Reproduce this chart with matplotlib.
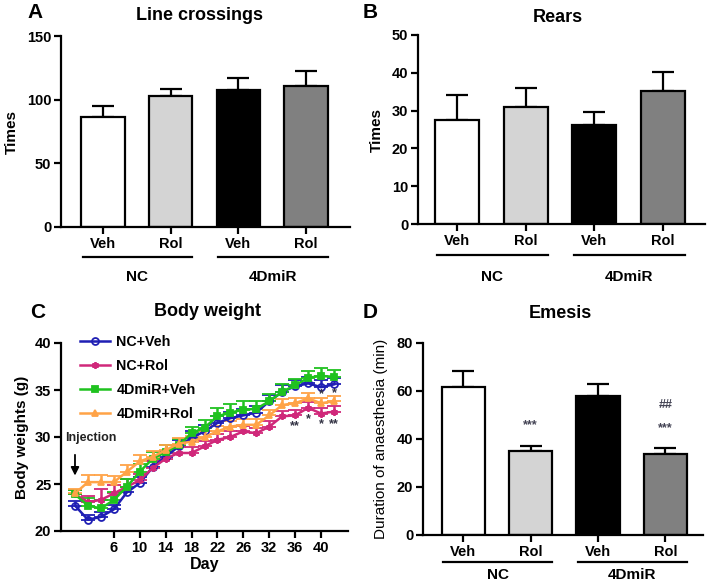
import matplotlib
matplotlib.use("Agg")
import matplotlib.pyplot as plt
from matplotlib.lines import Line2D
import numpy as np

plt.rcParams['font.family'] = ['Liberation Sans', 'DejaVu Sans']
plt.rcParams['font.weight'] = 'bold'
plt.rcParams['axes.linewidth'] = 1.6

# ---------------- data ----------------
bar_labels = ["Veh", "Rol", "Veh", "Rol"]
group_labels = ["NC", "4DmiR"]
bar_colors = ["#ffffff", "#d4d4d4", "#000000", "#808080"]

line_vals = [86.5, 102.5, 107.5, 110.7]
line_err = [8.5, 6.0, 9.2, 11.8]

rears_vals = [27.6, 31.0, 26.2, 35.3]
rears_err = [6.6, 5.0, 3.5, 5.0]

emesis_vals = [61.8, 35.2, 58.1, 33.7]
emesis_err = [6.6, 2.0, 4.7, 2.4]
emesis_marks = ["", "***", "", "***"]
emesis_marks2 = ["", "", "", "##"]

days = [0, 2, 4, 6, 8, 10, 12, 14, 16, 18, 20, 22, 24, 26, 29, 32, 34, 36, 38, 40, 42]
day_ticks = [6, 10, 14, 18, 22, 26, 32, 36, 40]

nc_veh = [22.7, 21.2, 21.5, 22.3, 24.1, 25.1, 26.8, 27.9, 29.0, 29.9, 30.6, 31.5, 32.0,
          32.3, 32.6, 33.8, 34.8, 35.4, 35.7, 35.3, 35.6]
nc_veh_err = [0.5, 0.5, 0.5, 0.5, 0.6, 0.6, 0.6, 0.6, 0.7, 0.7, 0.7, 0.7, 0.7,
              0.7, 0.7, 0.7, 0.7, 0.7, 0.7, 0.8, 0.7]
nc_rol = [23.9, 23.1, 23.3, 24.0, 24.7, 25.4, 26.7, 27.7, 28.3, 28.3, 29.0, 29.7, 30.0,
          30.6, 30.4, 31.1, 32.2, 32.3, 33.1, 32.5, 32.7]
nc_rol_err = [0.5, 0.6, 1.2, 0.9, 0.8, 0.7, 0.7, 0.6, 0.6, 0.6, 0.6, 0.6, 0.6,
              0.6, 0.6, 0.6, 0.6, 0.6, 0.6, 0.6, 0.6]
d4_veh = [23.9, 22.7, 22.4, 23.3, 24.7, 26.3, 27.7, 28.4, 29.1, 30.4, 31.0, 32.2, 32.6,
          32.9, 33.0, 33.8, 34.8, 35.5, 36.3, 36.5, 36.4]
d4_veh_err = [0.5, 0.8, 0.9, 0.8, 0.8, 0.8, 0.7, 0.7, 0.7, 0.7, 0.8, 0.9, 0.9,
              0.9, 0.8, 0.8, 0.8, 0.7, 0.7, 0.8, 0.7]
d4_rol = [24.0, 25.2, 25.2, 25.2, 26.3, 27.4, 27.9, 28.6, 29.3, 29.5, 30.0, 30.6, 31.1,
          31.3, 31.3, 32.3, 33.4, 33.6, 34.1, 33.6, 33.8]
d4_rol_err = [0.5, 0.8, 0.8, 0.7, 0.7, 0.7, 0.6, 0.6, 0.6, 0.6, 0.6, 0.6, 0.6,
              0.6, 0.6, 0.6, 0.6, 0.6, 0.6, 0.6, 0.6]
series_names = ["NC+Veh", "NC+Rol", "4DmiR+Veh", "4DmiR+Rol"]
series_vals = [nc_veh, nc_rol, d4_veh, d4_rol]
series_err = [nc_veh_err, nc_rol_err, d4_veh_err, d4_rol_err]
series_colors = ["#1f1fb4", "#d0287a", "#1fc21f", "#ffa347"]
series_markers = ["o", (6, 2, 0), "s", "^"]
series_mfc = ["none", "#d0287a", "#1fc21f", "#ffa347"]

# significance marks on body-weight plot
bw_marks_days = [36, 38, 40, 42]
bw_marks_text_lo = ["**", "*", "*", "**"]
bw_marks_y_lo = [31.2, 31.9, 31.4, 31.4]
bw_marks_text_hi = ["", "", "*", "*"]
bw_marks_y_hi = [0, 0, 34.6, 34.7]

W, H = 710, 582
fig = plt.figure(figsize=(W / 100, H / 100), dpi=100)


def rect(l, r, t, b):
    return [l / W, 1 - b / H, (r - l) / W, (b - t) / H]


axA = fig.add_axes(rect(61, 350, 36, 227))
axB = fig.add_axes(rect(418, 705, 35, 224))
axC = fig.add_axes(rect(61, 348, 343, 531))
axD = fig.add_axes(rect(423, 703, 343, 535))


def style(ax):
    for s in ["top", "right"]:
        ax.spines[s].set_visible(False)
    ax.tick_params(direction="out", length=5, width=1.6, labelsize=10.5, pad=2)
    for lab in ax.get_xticklabels() + ax.get_yticklabels():
        lab.set_fontweight("bold")


def bar_panel(ax, vals, errs, xlim, ylim, yticks, ylabel, title, letter, line_y, lab_y,
              letter_xy, title_xy):
    x = np.arange(len(vals))
    ax.bar(x, vals, width=0.64, color=bar_colors, edgecolor="black", linewidth=1.6, zorder=2)
    ax.errorbar(x, vals, yerr=[np.zeros(len(vals)), errs], fmt="none", ecolor="black",
                elinewidth=1.6, capsize=8, capthick=1.6, zorder=1)
    ax.set_xlim(*xlim)
    ax.set_ylim(*ylim)
    ax.set_yticks(yticks)
    ax.set_xticks(x)
    ax.set_xticklabels(bar_labels, fontsize=11.5)
    ax.set_ylabel(ylabel, fontsize=11, fontweight="bold", labelpad=6)
    style(ax)
    tr = ax.get_xaxis_transform()
    for gi, g in enumerate(group_labels):
        a, b = 2 * gi, 2 * gi + 1
        ax.plot([a - 0.3, b + 0.32], [line_y, line_y], color="black", lw=1.6,
                transform=tr, clip_on=False)
        ax.text((a + b) / 2 + 0.01, lab_y, g, transform=tr, ha="center", va="center",
                fontsize=11, fontweight="bold")
    fig.text(letter_xy[0] / W, 1 - letter_xy[1] / H, letter, fontsize=15,
             fontweight="bold", ha="center", va="center")
    fig.text(title_xy[0] / W, 1 - title_xy[1] / H, title, fontsize=13,
             fontweight="bold", ha="center", va="center")


bar_panel(axA, line_vals, line_err, (-0.62, 3.65), (0, 150), [0, 50, 100, 150], "Times",
          "Line crossings", "A", -0.157, -0.262, (35, 13), (200, 15))
bar_panel(axB, rears_vals, rears_err, (-0.57, 3.61), (0, 50), [0, 10, 20, 30, 40, 50], "Times",
          "Rears", "B", -0.164, -0.28, (370, 13), (558, 17))
bar_panel(axD, emesis_vals, emesis_err, (-0.60, 3.56), (0, 80), [0, 20, 40, 60, 80],
          "Duration of anaesthesia (min)", "Emesis", "D", -0.14, -0.21, (370, 313), (560, 313))
axD.yaxis.label.set_fontweight("normal")
axD.yaxis.label.set_fontsize(11)

for i, (m1, m2) in enumerate(zip(emesis_marks, emesis_marks2)):
    if m1:
        axD.text(i, emesis_vals[i] + emesis_err[i] + 8.5, m1, ha="center", va="center",
                 fontsize=9, color="#444455")
    if m2:
        axD.text(i, emesis_vals[i] + emesis_err[i] + 18, m2, ha="center", va="center",
                 fontsize=9, color="#444455")

# ---------------- Body weight ----------------
pos = np.arange(len(days))
handles = []
for name, v, e, c, mk, mfc in zip(series_names, series_vals, series_err, series_colors,
                                  series_markers, series_mfc):
    axC.errorbar(pos, v, yerr=[np.zeros(len(v)), e], color=c, lw=1.8, marker=mk,
                 markersize=5, mfc=mfc, mec=c, mew=1.3, elinewidth=1.8, capsize=5,
                 capthick=1.8)
    handles.append(Line2D([], [], color=c, lw=1.8, marker=mk, markersize=5, mfc=mfc,
                          mec=c, mew=1.3, label=name))
axC.set_xlim(-1.08, 21.08)
axC.set_ylim(20, 40)
axC.set_yticks([20, 25, 30, 35, 40])
axC.set_xticks([days.index(d) for d in day_ticks])
axC.set_xticklabels([str(d) for d in day_ticks])
axC.set_xlabel("Day", fontsize=11.5, fontweight="bold", labelpad=2)
axC.set_ylabel("Body weights (g)", fontsize=11, fontweight="bold", labelpad=4)
style(axC)
leg = axC.legend(handles=handles, loc="upper left", bbox_to_anchor=(0.066, 1.04),
                 frameon=False, handlelength=2.1, handletextpad=0.45, labelspacing=0.68,
                 borderpad=0, borderaxespad=0, prop={"size": 10.3, "weight": "bold"})
for d, t, y in zip(bw_marks_days, bw_marks_text_lo, bw_marks_y_lo):
    axC.text(days.index(d), y, t, ha="center", va="center", fontsize=9, color="#333344")
for d, t, y in zip(bw_marks_days, bw_marks_text_hi, bw_marks_y_hi):
    if t:
        axC.text(days.index(d), y, t, ha="center", va="center", fontsize=9, color="#333344")

axC.text(1.2, 29.9, "Injection", ha="center", va="center", fontsize=9,
         fontweight="bold", color="#222222")
axC.annotate("", xy=(0, 25.6), xytext=(0, 28.4),
             arrowprops=dict(arrowstyle="-|>", color="black", lw=1.3, mutation_scale=12))
fig.text(38 / W, 1 - 312 / H, "C", fontsize=15, fontweight="bold", ha="center", va="center")
fig.text(207 / W, 1 - 312 / H, "Body weight", fontsize=13, fontweight="bold",
         ha="center", va="center")

fig.savefig("out.png", dpi=100)
